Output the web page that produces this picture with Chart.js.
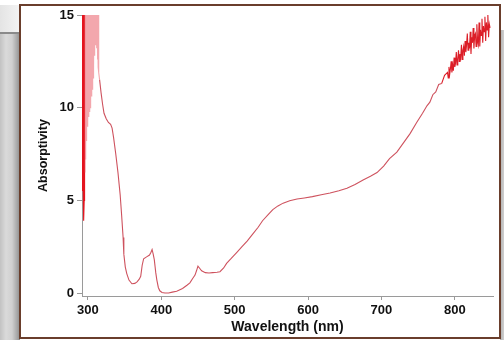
<!DOCTYPE html>
<html>
<head>
<meta charset="utf-8">
<script src="https://cdn.jsdelivr.net/npm/chart.js@4/dist/chart.umd.min.js"></script>
<style>
html,body{margin:0;padding:0;background:#fff;}
#wrap{width:504px;height:340px;position:relative;}
</style>
</head>
<body>
<div id="wrap"><canvas id="c" width="504" height="340"></canvas></div>
<script>
// ---- data ----
const wavelengths = [
  291,291.5,292,292.5,293,293.5,294,294.5,295,295.5,296,296.5,297,297.5,298,298.5,299,299.5,300,300.5,
  301,301.5,302,302.5,303,303.5,304,304.5,305,305.5,306,306.5,307,307.5,308,308.5,309,309.5,310,310.5,
  311,311.5,312,312.5,313,313.5,314,314.5,315,
  316,318,320,322,325,328,331,333,335,338,341,344,346,348,349,351,353,356,360,364,367,370,372,374,376,
  380,384,386,387.5,389,390.5,392.5,394,396,398,401,405,410,415,421,429,435,439,443,446,448,450,452,455,
  460,465,470,476,480,485,489,495,503,510,517,524,532,538,545,552,559,566,575,585,595,606,618,630,642,
  653,664,675,685,694,703,711,721,730,739,748,756,762,766,770,774,778,782,786,
  790,791,792,793,794,795,796,797,798,799,800,801,802,803,804,805,806,807,808,809,810,811,812,813,814,
  815,816,817,818,819,820,821,822,823,824,825,826,827,828,829,830,831,832,833,834,835,836,837,838,839,
  840,841,842,843,844,845,846,847,848
];
const absorptivity = [
  16,6.2,16,5.5,16,6.0,16,3.9,5.0,16,6.5,16,7.2,16,8.2,16,9.0,16,9.2,16,
  9.5,16,9.8,16,10.0,16,10.3,16,10.6,16,11.0,16,11.6,16,12.2,16,12.8,16,13.4,16,
  14.0,16,13.2,16,12.6,16,12.2,16,11.9,
  11.5,10.8,10.2,9.7,9.4,9.2,9.1,8.9,8.4,7.5,6.5,5.3,4.2,3.0,2.1,1.4,1.05,0.7,0.5,0.52,0.6,0.75,0.9,1.5,1.85,
  1.95,2.05,2.2,2.35,2.1,1.8,1.1,0.7,0.3,0.12,0.03,0.0,0.0,0.05,0.1,0.25,0.42,0.55,0.8,0.97,1.2,1.45,1.35,1.2,
  1.1,1.08,1.1,1.12,1.15,1.35,1.6,1.85,2.2,2.5,2.8,3.15,3.55,3.9,4.2,4.5,4.7,4.85,4.98,5.07,5.13,5.2,5.3,5.4,5.52,
  5.65,5.85,6.1,6.3,6.5,6.85,7.25,7.6,8.1,8.6,9.2,9.7,10.1,10.3,10.7,10.85,11.25,11.3,11.75,
  11.9,11.6,12.2,11.8,12.1,12.5,11.9,12.3,12.0,12.7,12.2,12.4,13.0,12.3,12.6,13.1,12.5,12.9,12.7,13.4,12.6,13.1,13.3,12.8,13.6,
  13.0,13.4,14.0,13.1,13.5,13.2,14.1,12.9,13.8,13.5,14.3,13.2,13.9,14.0,13.3,14.5,13.6,13.4,14.6,13.3,14.2,13.9,14.8,13.5,14.4,
  14.1,14.9,13.6,14.6,14.2,15.0,13.8,14.5,14.3
];
const xTicks = [300,400,500,600,700,800];
const yTicks = [0,5,10,15];
const xTitle = 'Wavelength (nm)';
const yTitle = 'Absorptivity';

const points = wavelengths.map((w,i)=>({x:w,y:absorptivity[i]}));

const frame = {
  id:'frame',
  beforeDraw(chart){
    const ctx = chart.ctx;
    ctx.save();
    ctx.fillStyle='#fff';
    ctx.fillRect(0,0,504,340);
    let g = ctx.createLinearGradient(0,0,20,0);
    g.addColorStop(0,'#c2c2c2');
    g.addColorStop(0.3,'#dadada');
    g.addColorStop(0.6,'#d0d0d0');
    g.addColorStop(0.85,'#a8a8a8');
    g.addColorStop(1,'#8c8c8c');
    ctx.fillStyle=g;
    ctx.fillRect(0,33,20,307);
    let g2 = ctx.createLinearGradient(0,0,20,0);
    g2.addColorStop(0,'#e4e4e4');
    g2.addColorStop(1,'#f4f4f4');
    ctx.fillStyle=g2;
    ctx.fillRect(0,5,20,28);
    ctx.fillStyle='#8a8a8a';
    ctx.fillRect(0,32,20,2);
    let g3 = ctx.createLinearGradient(500,0,504,0);
    g3.addColorStop(0,'#b0b0b0');
    g3.addColorStop(1,'#d0d0d0');
    ctx.fillStyle=g3;
    ctx.fillRect(500,30,4,310);
    ctx.strokeStyle='#6a3e2c';
    ctx.lineWidth=2;
    ctx.strokeRect(20,5,480,333);
    ctx.restore();
  }
};

const FONT = 'Liberation Sans, Arial, Helvetica, sans-serif';
new Chart(document.getElementById('c'),{
  type:'line',
  data:{datasets:[{
    data:points,
    borderColor:'rgb(206,82,94)',
    borderWidth:1.1,
    pointRadius:0,
    tension:0,
    fill:false,
    clip:0,
    segment:{
      borderColor(ctx){
        const a = ctx.p0.parsed.x, b = ctx.p1.parsed.x;
        if (b <= 295.5) return 'rgb(228,20,30)';
        if (a >= 295.5 && b <= 316) return 'rgba(232,80,92,0.5)';
        if (a >= 780) return 'rgb(220,30,40)';
        return undefined;
      }
    }
  }]},
  options:{
    responsive:false,
    animation:false,
    devicePixelRatio:1,
    parsing:false,
    layout:{padding:{left:22,right:11,top:15,bottom:4}},
    plugins:{legend:{display:false},tooltip:{enabled:false}},
    scales:{
      x:{
        type:'linear',min:292,max:852,
        afterBuildTicks(s){s.ticks = xTicks.map(v=>({value:v}));},
        afterFit(s){s.height=40;},
        grid:{drawOnChartArea:false,drawTicks:true,tickLength:4,color:'#9a9a9a'},
        border:{display:true,color:'#9a9a9a',width:1},
        ticks:{color:'#111',font:{family:FONT,size:13,weight:'bold'},padding:3,maxRotation:0},
        title:{display:true,text:xTitle,color:'#111',font:{family:FONT,size:14,weight:'bold'},padding:{top:0,bottom:0}}
      },
      y:{
        type:'linear',min:-0.16,max:15,
        afterBuildTicks(s){s.ticks = yTicks.map(v=>({value:v}));},
        afterFit(s){s.width=60;},
        grid:{drawOnChartArea:false,drawTicks:true,tickLength:5,color:'#9a9a9a'},
        border:{display:true,color:'#9a9a9a',width:1},
        ticks:{color:'#111',font:{family:FONT,size:13,weight:'bold'},padding:3},
        title:{display:true,text:yTitle,color:'#111',font:{family:FONT,size:12.5,weight:'bold'},padding:{top:14,bottom:0}}
      }
    }
  },
  plugins:[frame]
});
</script>
</body>
</html>
